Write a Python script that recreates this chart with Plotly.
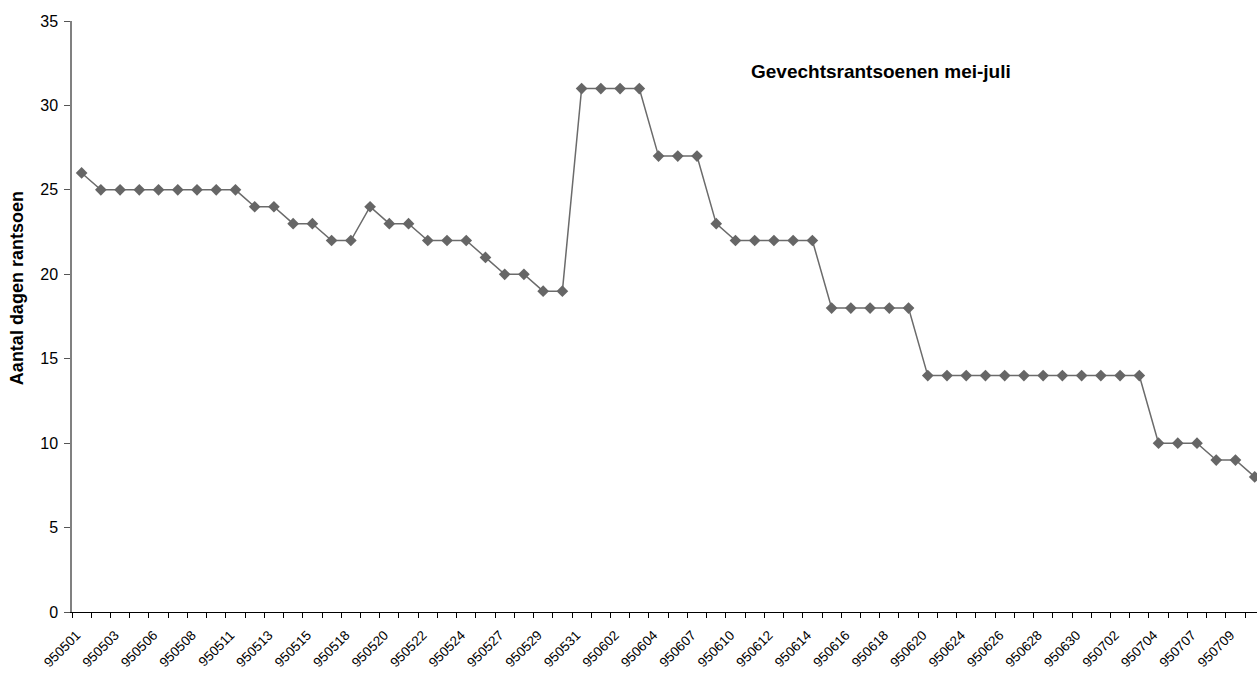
import plotly.graph_objects as go

# dates (yymmdd) and rations left, one point per report
dates = [
    "950501", "950502", "950503", "950505", "950506", "950507", "950508", "950510",
    "950511", "950512", "950513", "950514", "950515", "950517", "950518", "950519",
    "950520", "950521", "950522", "950523", "950524", "950526", "950527", "950528",
    "950529", "950530", "950531", "950601", "950602", "950603", "950604", "950606",
    "950607", "950609", "950610", "950611", "950612", "950613", "950614", "950615",
    "950616", "950617", "950618", "950619", "950620", "950622", "950624", "950625",
    "950626", "950627", "950628", "950629", "950630", "950701", "950702", "950703",
    "950704", "950706", "950707", "950708", "950709", "950710",
]
rations = [
    26, 25, 25, 25, 25, 25, 25, 25, 25, 24, 24, 23, 23, 22, 22, 24,
    23, 23, 22, 22, 22, 21, 20, 20, 19, 19, 31, 31, 31, 31, 27, 27,
    27, 23, 22, 22, 22, 22, 22, 18, 18, 18, 18, 18, 14, 14, 14, 14,
    14, 14, 14, 14, 14, 14, 14, 14, 10, 10, 10, 9, 9, 8,
]

idx = list(range(len(dates)))
label_idx = idx[::2]
label_txt = [dates[i] for i in label_idx]

fig = go.Figure(
        go.Scatter(x=idx, y=rations, mode="lines+markers",
                   line=dict(color="#6b6b6b", width=1.5),
                   marker=dict(symbol="diamond", size=9, color="#666666"),
                   hoverinfo="skip"))

fig.update_layout(
        width=1257, height=673,
        margin=dict(l=72, r=0, t=21, b=61),
        plot_bgcolor="white", paper_bgcolor="white",
        font=dict(family="Liberation Sans, Arial", color="black"),
        showlegend=False,
        annotations=[
            dict(text="<b>Gevechtsrantsoenen mei-juli</b>",
                 xref="paper", yref="paper", x=0.683, y=0.914,
                 xanchor="center", yanchor="middle",
                 showarrow=False, font=dict(size=19)),
            dict(text="<b>Aantal dagen rantsoen</b>", textangle=-90,
                 xref="paper", yref="paper", x=0, xshift=-55, y=0.548,
                 xanchor="center", yanchor="middle",
                 showarrow=False, font=dict(size=18)),
        ],
        )

fig.update_xaxes(
        range=[-0.5, 61.12], autorange=False,
        tickmode="array", tickvals=label_idx, ticktext=label_txt,
        tickangle=-45, tickfont=dict(size=13.5),
        ticks="outside", ticklen=9, tickcolor="rgba(0,0,0,0)",
        ticklabelshift=-5,
        minor=dict(tick0=-0.5, dtick=1, ticks="outside", ticklen=5,
                   tickcolor="black", showgrid=False),
        showline=True, linecolor="black", linewidth=1,
        showgrid=False, zeroline=False, automargin=False,
        )
fig.update_yaxes(
        range=[0, 35], autorange=False, dtick=5,
        ticks="outside", ticklen=6, tickcolor="#555555",
        tickfont=dict(size=16), ticklabelstandoff=3,
        showline=True, linecolor="#808080", linewidth=1.5,
        showgrid=False, zeroline=False, automargin=False,
        )

# drop the default body margin so the figure fills the window exactly
fig.write_html("out.html",
               config={"displayModeBar": False},
               post_script="document.body.style.margin='0';"
                           "document.body.style.overflow='hidden';")
